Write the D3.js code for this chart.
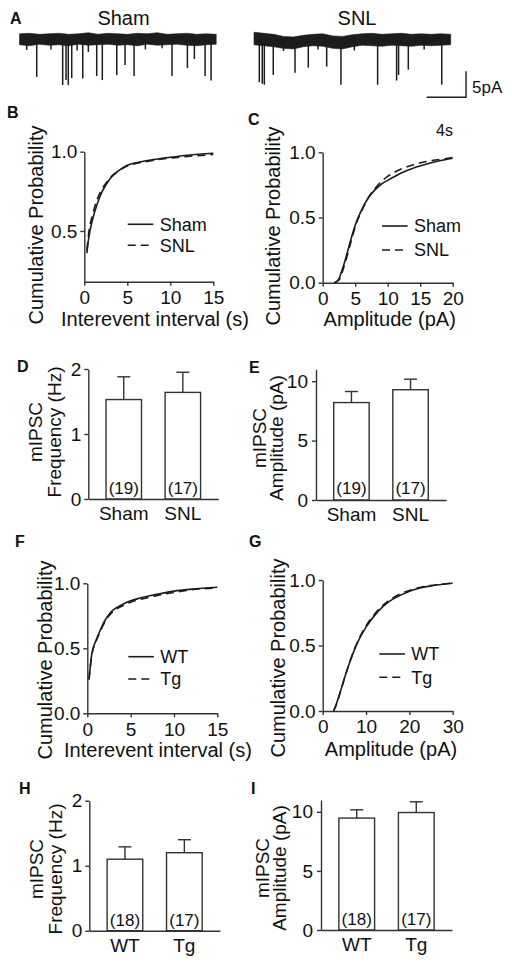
<!DOCTYPE html>
<html><head><meta charset="utf-8">
<script src="https://cdn.jsdelivr.net/npm/d3@7"></script>
<style>
body{margin:0;background:#fff;}
svg{display:block;font-family:"Liberation Sans",Arial,Helvetica,sans-serif;}
</style></head><body>
<svg id="c" width="512" height="967"></svg>
<script>
// ---------------- DATA ----------------
// Panel A traces (time in s, current in pA relative to baseline)
const traceTimes = [0,1,2,3,4,5,6,7,8,9,10,11,12,13,14,15,16,17,18,19,20];
const shamUpper = [1.0,1.1,0.9,1.0,1.1,0.9,1.0,1.2,0.9,1.1,1.0,0.9,1.1,1.0,1.2,0.9,1.0,1.1,0.9,1.0,0.9];
const shamLower = [-1.1,-1.3,-1.0,-1.2,-1.1,-1.3,-1.0,-1.2,-1.1,-1.0,-1.2,-1.1,-1.3,-1.0,-1.2,-1.1,-1.0,-1.2,-1.3,-1.1,-1.0];
const snlUpper  = [1.3,1.1,0.9,0.5,0.4,0.7,0.9,1.0,0.6,0.5,0.8,1.0,1.1,0.9,1.0,1.1,0.9,1.0,0.9,1.0,0.9];
const snlLower  = [-1.1,-1.3,-1.5,-1.8,-1.9,-1.5,-1.3,-1.4,-1.8,-1.9,-1.5,-1.2,-1.3,-1.4,-1.2,-1.3,-1.4,-1.2,-1.3,-1.2,-1.1];
const shamEventTimes = [0.73,1.75,3.2,4.39,4.73,4.96,5.31,5.86,6.43,7.0,7.85,8.42,9.89,10.73,11.65,12.8,14.5,15.51,17.07,17.78,18.87,19.48];
const shamEventAmps  = [2.1,7.3,2.0,8.85,7.9,8.85,7.5,2.2,7.6,2.5,7.1,7.9,6.9,5.0,7.1,2.0,1.8,7.1,5.6,3.85,7.1,8.0];
const snlEventTimes = [0.54,0.84,1.05,1.96,3.0,4.17,5.52,6.5,7.39,8.84,10.2,12.57,14.5,14.7,15.69,17.3,19.09];
const snlEventAmps  = [8.3,8.6,8.8,6.9,2.3,6.5,5.5,2.0,5.3,8.8,2.2,8.8,8.0,6.9,5.9,2.0,8.8];
const scaleBarSec = 4, scaleBarPA = 5;

// Panel B: interevent interval CDF (Sham vs SNL)
const bX = [0.3,0.5,1,1.5,2,2.5,3,4,5,6,8,10,12,15];
const bSham = [0.36,0.45,0.58,0.67,0.74,0.79,0.83,0.88,0.915,0.93,0.95,0.965,0.978,0.99];
const bSNL  = [0.38,0.48,0.61,0.70,0.76,0.80,0.835,0.88,0.91,0.925,0.945,0.96,0.97,0.982];
// Panel C: amplitude CDF (Sham vs SNL)
const cX = [1.8,2.5,3,3.5,4,4.5,5,6,7,8,9,10,12,14,16,18,20];
const cSham = [0,0.03,0.1,0.18,0.27,0.36,0.44,0.56,0.65,0.71,0.755,0.785,0.84,0.88,0.91,0.935,0.955];
const cSNL  = [0,0.02,0.08,0.16,0.25,0.34,0.43,0.55,0.65,0.72,0.775,0.815,0.87,0.905,0.93,0.945,0.96];
// Panel D/E: bars (Sham, SNL)
const groupsDE = ["Sham","SNL"];
const nDE = ["(19)","(17)"];
const freqDE = [1.53,1.64], freqErrDE = [0.35,0.31];
const ampDE = [8.2,9.28], ampErrDE = [0.93,0.89];
// Panel F: interevent CDF (WT vs Tg)
const fX = [0.2,0.5,1,1.5,2,2.5,3,4,5,6,8,10,12,15];
const fWT = [0.26,0.45,0.56,0.64,0.71,0.76,0.795,0.835,0.865,0.885,0.915,0.94,0.955,0.97];
const fTg = [0.26,0.44,0.55,0.63,0.70,0.75,0.785,0.825,0.855,0.875,0.905,0.93,0.95,0.965];
// Panel G: amplitude CDF (WT vs Tg)
const gX = [2.5,3,4,5,6,7,8,10,12,14,16,18,20,22,25,28,30];
const gWT = [0,0.04,0.14,0.25,0.35,0.44,0.52,0.64,0.73,0.80,0.85,0.885,0.915,0.935,0.955,0.968,0.975];
const gTg = [0,0.035,0.135,0.245,0.35,0.445,0.525,0.65,0.74,0.81,0.86,0.895,0.92,0.94,0.958,0.97,0.977];
// Panel H/I: bars (WT, Tg)
const groupsHI = ["WT","Tg"];
const nHI = ["(18)","(17)"];
const freqHI = [1.1,1.2], freqErrHI = [0.19,0.2];
const ampHI = [9.47,9.94], ampErrHI = [0.7,0.91];
// tick labels
const ticksCdfY = [0.5,1.0], ticksCdfY0 = [0.0,0.5,1.0];
const ticksInterval = [0,5,10,15], ticksAmp20 = [0,5,10,15,20], ticksAmp30 = [0,10,20,30];
const ticksFreq = [0,1,2], ticksAmpBar = [0,5,10];

// ---------------- DRAW ----------------
const svg = d3.select("#c");
const INK = "#1c1c1c", AX = "#333", TXT = "#111";

function txt(x, y, s, size, opts = {}) {
  const t = svg.append("text").attr("x", x).attr("y", y).text(s)
    .attr("font-size", size).attr("fill", TXT)
    .attr("text-anchor", opts.anchor || "start");
  if (opts.bold) t.attr("font-weight", "bold");
  if (opts.rot) t.attr("transform", `rotate(-90,${x},${y})`);
  return t;
}
function styleAxis(g, fs) {
  g.select(".domain").attr("stroke", AX).attr("stroke-width", 1.4);
  g.selectAll(".tick line").attr("stroke", AX).attr("stroke-width", 1.4);
  g.selectAll(".tick text").attr("font-size", fs).attr("fill", TXT)
    .attr("font-family", '"Liberation Sans",Arial,sans-serif');
}

// Panel letters
[["A",10,24],["B",7,118],["C",248,125],["D",17,372],["E",249,373],["F",15,547],["G",249,547],["H",19,794],["I",251,794]]
  .forEach(([l,x,y]) => txt(x, y, l, 16, {bold:true}));

// ---- Panel A ----
txt(123.5, 25, "Sham", 20, {anchor:"middle"});
txt(357, 25, "SNL", 20, {anchor:"middle"});
const pxPerPA = 5.2;
function drawTrace(x0, x1, baseY, upper, lower, evT, evA) {
  const x = d3.scaleLinear().domain([0, 20]).range([x0, x1]);
  const y = d3.scaleLinear().domain([0, 1]).range([baseY, baseY - pxPerPA]);
  const area = d3.area().x((d, i) => x(traceTimes[i])).y0((d, i) => y(lower[i])).y1(d => y(d));
  svg.append("path").datum(upper).attr("d", area).attr("fill", INK)
    .attr("stroke", INK).attr("stroke-width", 0.6);
  svg.append("g").selectAll("line").data(evT).join("line")
    .attr("x1", d => x(d)).attr("x2", d => x(d))
    .attr("y1", y(0)).attr("y2", (d, i) => y(-evA[i]))
    .attr("stroke", INK).attr("stroke-width", 1.5);
  return {x, y};
}
drawTrace(19.5, 216.2, 39, shamUpper, shamLower, shamEventTimes, shamEventAmps);
const snlS = drawTrace(254, 450.7, 39, snlUpper, snlLower, snlEventTimes, snlEventAmps);
// scale bar
const sbT = 21.56, sbBottom = -11.2;
svg.append("path")
  .attr("d", `M${snlS.x(sbT - scaleBarSec)},${snlS.y(sbBottom)}H${snlS.x(sbT)}V${snlS.y(sbBottom + scaleBarPA)}`)
  .attr("fill", "none").attr("stroke", INK).attr("stroke-width", 1.4);
txt(472, 93, "5pA", 17);
txt(444.5, 136, "4s", 16, {anchor:"middle"});

// ---- CDF panels ----
function cdfPanel(c) {
  const x = d3.scaleLinear().domain(c.xDomain).range([c.x0, c.x1]);
  const y = d3.scaleLinear().domain(c.yDomain).range([c.yb, c.yt]);
  const gx = svg.append("g").attr("transform", `translate(0,${c.yb})`)
    .call(d3.axisBottom(x).tickValues(c.xTicks).tickSize(4).tickSizeOuter(0).tickPadding(5).tickFormat(d3.format("d")));
  styleAxis(gx, 19);
  const gy = svg.append("g").attr("transform", `translate(${c.x0},0)`)
    .call(d3.axisLeft(y).tickValues(c.yTicks).tickSize(4).tickSizeOuter(0).tickPadding(3).tickFormat(d3.format(".1f")));
  styleAxis(gy, 19);
  const line = d3.line().x((d, i) => x(c.xs[i])).y(d => y(d)).curve(d3.curveMonotoneX);
  svg.append("path").datum(c.s1).attr("d", line).attr("fill", "none").attr("stroke", INK).attr("stroke-width", 1.6);
  svg.append("path").datum(c.s2).attr("d", line).attr("fill", "none").attr("stroke", INK).attr("stroke-width", 1.6).attr("stroke-dasharray", "8,5");
  // legend
  const [lx, ly] = c.leg;
  svg.append("line").attr("x1", lx).attr("x2", lx + 25.6).attr("y1", ly).attr("y2", ly).attr("stroke", INK).attr("stroke-width", 1.6);
  svg.append("line").attr("x1", lx).attr("x2", lx + 25.6).attr("y1", ly + c.legGap).attr("y2", ly + c.legGap).attr("stroke", INK).attr("stroke-width", 1.6).attr("stroke-dasharray", "8,5");
  txt(lx + 32, ly + 6.4, c.names[0], 18);
  txt(lx + 32, ly + c.legGap + 6.4, c.names[1], 18);
  // titles
  txt(c.xtx, c.xty, c.xTitle, 20, {anchor:"middle"});
  txt(c.ytx, c.yty, "Cumulative Probability", 20, {anchor:"middle", rot:true});
}
cdfPanel({x0:84.3, x1:213.3, yb:281.7, yt:151.7, xDomain:[0,15], yDomain:[0.18,1.0], xTicks:ticksInterval, yTicks:ticksCdfY,
  xs:bX, s1:bSham, s2:bSNL, leg:[127.7,224.3], legGap:21, names:["Sham","SNL"],
  xTitle:"Interevent interval (s)", xtx:155, xty:326, ytx:43, yty:225});
cdfPanel({x0:322.7, x1:452.7, yb:282.7, yt:152.3, xDomain:[0,20], yDomain:[0,1], xTicks:ticksAmp20, yTicks:ticksCdfY0,
  xs:cX, s1:cSham, s2:cSNL, leg:[382,226], legGap:24, names:["Sham","SNL"],
  xTitle:"Amplitude (pA)", xtx:389.7, xty:326, ytx:280, yty:226});
cdfPanel({x0:87.3, x1:217.3, yb:713.3, yt:583.3, xDomain:[0,15], yDomain:[0,1], xTicks:ticksInterval, yTicks:ticksCdfY0,
  xs:fX, s1:fWT, s2:fTg, leg:[128.3,656.7], legGap:22.3, names:["WT","Tg"],
  xTitle:"Interevent interval (s)", xtx:158, xty:757, ytx:52, yty:660});
cdfPanel({x0:322.7, x1:452.7, yb:711, yt:580, xDomain:[0,30], yDomain:[0,1], xTicks:ticksAmp30, yTicks:ticksCdfY0,
  xs:gX, s1:gWT, s2:gTg, leg:[379.3,654], legGap:23.3, names:["WT","Tg"],
  xTitle:"Amplitude (pA)", xtx:391, xty:756, ytx:285, yty:658});

// ---- Bar panels ----
function barPanel(c) {
  const x = d3.scaleBand().domain(c.cats).range([c.x0, c.x1]).paddingInner(0.4).paddingOuter(0.3);
  const y = d3.scaleLinear().domain(c.yDomain).range([c.yb, c.yt]);
  const g = svg.append("g");
  c.cats.forEach((k, i) => {
    const cx = x(k) + x.bandwidth() / 2;
    const top = y(c.vals[i] + c.errs[i]);
    g.append("line").attr("x1", cx).attr("x2", cx).attr("y1", y(c.vals[i])).attr("y2", top).attr("stroke", AX).attr("stroke-width", 1.4);
    g.append("line").attr("x1", cx - 6.5).attr("x2", cx + 6.5).attr("y1", top).attr("y2", top).attr("stroke", AX).attr("stroke-width", 1.4);
  });
  g.selectAll("rect").data(c.vals).join("rect")
    .attr("x", (d, i) => x(c.cats[i])).attr("width", x.bandwidth())
    .attr("y", d => y(d)).attr("height", d => y(c.yDomain[0]) - y(d))
    .attr("fill", "#fff").attr("stroke", AX).attr("stroke-width", 1.4);
  c.cats.forEach((k, i) => txt(x(k) + x.bandwidth() / 2, c.nY, c.ns[i], 17, {anchor:"middle"}));
  const gx = svg.append("g").attr("transform", `translate(0,${c.yb})`)
    .call(d3.axisBottom(x).tickSize(0).tickPadding(8).tickSizeOuter(0));
  styleAxis(gx, 19);
  const gy = svg.append("g").attr("transform", `translate(${c.x0},0)`)
    .call(d3.axisLeft(y).tickValues(c.yTicks).tickSize(4).tickSizeOuter(0).tickPadding(c.tp).tickFormat(d3.format("d")));
  styleAxis(gy, 19);
  txt(c.t1x, c.ty, "mIPSC", 19, {anchor:"middle", rot:true});
  txt(c.t2x, c.ty, c.title2, 19, {anchor:"middle", rot:true});
}
barPanel({cats:groupsDE, ns:nDE, vals:freqDE, errs:freqErrDE, x0:88.3, x1:218.3, yb:499, yt:369, yDomain:[0,2],
  yTicks:ticksFreq, tp:3, nY:494, t1x:42, t2x:61, ty:432, title2:"Frequency (Hz)"});
barPanel({cats:groupsDE, ns:nDE, vals:ampDE, errs:ampErrDE, x0:316, x1:446, yb:500, yt:369.3, yDomain:[0,11],
  yTicks:ticksAmpBar, tp:4, nY:494, t1x:266, t2x:283, ty:438, title2:"Amplitude (pA)"});
barPanel({cats:groupsHI, ns:nHI, vals:freqHI, errs:freqErrHI, x0:89.3, x1:220, yb:930.7, yt:800.7, yDomain:[0,2],
  yTicks:ticksFreq, tp:3, nY:926, t1x:43, t2x:62, ty:869, title2:"Frequency (Hz)"});
barPanel({cats:groupsHI, ns:nHI, vals:ampHI, errs:ampErrHI, x0:321, x1:452, yb:930, yt:800, yDomain:[0,11],
  yTicks:ticksAmpBar, tp:4, nY:925, t1x:269, t2x:286, ty:868, title2:"Amplitude (pA)"});
</script>
</body></html>
